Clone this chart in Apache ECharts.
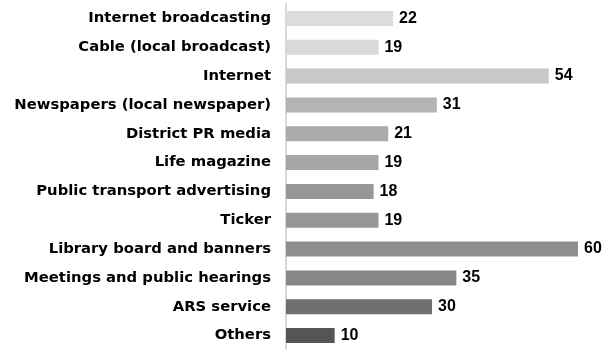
<!DOCTYPE html>
<html>
<head>
<meta charset="utf-8">
<script src="https://cdn.jsdelivr.net/npm/echarts@6/dist/echarts.min.js"></script>
<style>
  html, body { margin: 0; padding: 0; background: #fff; }
  #chart { width: 603px; height: 350px; }
</style>
</head>
<body>
<div id="chart"></div>
<script>
// Promotion channels and their counts, listed top to bottom
const categories = [
  'Internet broadcasting',
  'Cable (local broadcast)',
  'Internet',
  'Newspapers (local newspaper)',
  'District PR media',
  'Life magazine',
  'Public transport advertising',
  'Ticker',
  'Library board and banners',
  'Meetings and public hearings',
  'ARS service',
  'Others'
];
const values = [22, 19, 54, 31, 21, 19, 18, 19, 60, 35, 30, 10];
const barColors = [
  '#dcdcdc', '#d9d9d9', '#c8c8c8', '#b4b4b4', '#ababab', '#a6a6a6',
  '#979797', '#979797', '#8e8e8e', '#878787', '#6f6f6f', '#555555'
];

const chart = echarts.init(document.getElementById('chart'), null, { renderer: 'canvas' });

chart.setOption({
  animation: false,
  backgroundColor: '#ffffff',
  grid: { left: 286, right: 25, top: 4, height: 350, containLabel: false },
  xAxis: {
    type: 'value',
    min: 0,
    max: 60,
    show: false
  },
  yAxis: {
    type: 'category',
    inverse: true,
    data: categories,
    axisLine: { show: true, lineStyle: { color: '#d8d8d8', width: 2 } },
    axisTick: { show: false },
    splitLine: { show: false },
    axisLabel: {
      margin: 15,
      padding: [2, 0, 0, 0],
      color: '#000000',
      fontFamily: 'DejaVu Sans',
      fontWeight: 'bold',
      fontSize: 14.8
    }
  },
  series: [{
    type: 'bar',
    barWidth: 15,
    data: values.map((v, i) => ({ value: v, itemStyle: { color: barColors[i] } })),
    label: {
      show: true,
      position: 'right',
      distance: 6,
      color: '#000000',
      fontFamily: 'Liberation Sans',
      fontWeight: 'bold',
      fontSize: 16
    }
  }]
});
</script>
</body>
</html>
